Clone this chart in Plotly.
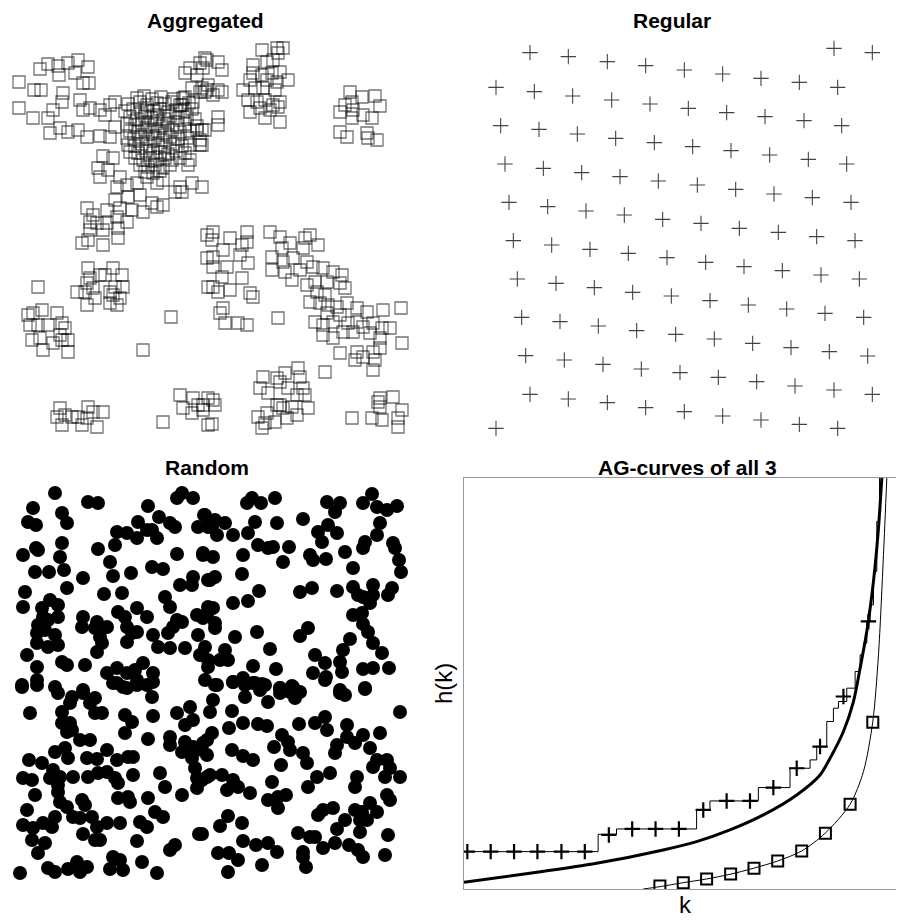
import plotly.graph_objects as go

# ---------------- Aggregated pattern (spatial units, y grows downward) ----------------
agg_nw = [(40,69),(48,64),(58,66),(68,63),(78,60),(88,67),(75,73),(59,75),(83,83),(89,83),
          (19,82),(34,90),(41,90),(63,93),(62,102),(80,100),(19,108),(33,118),(53,110),(83,110),
          (90,108),(100,110),(48,118),(50,133),(60,128),(68,132),(78,130),(87,137),(100,136),
          (110,105),(115,102),(105,115),(115,127),(110,137)]
agg_core = [(137,98),(144,96),(152,99),(161,97),(174,99),(183,98),
            (128,104),(140,102),(147,105),(157,103),(165,104),(172,102),(180,105),(189,103),
            (125,111),(133,109),(141,112),(147,110),(154,111),(160,109),(168,112),(176,110),(185,111),(192,109),
            (130,117),(137,119),(145,116),(151,118),(157,117),(164,119),(170,116),(178,118),(187,117),(195,119),
            (127,124),(135,125),(142,123),(148,125),(155,124),(162,126),(168,123),(177,125),(185,124),(197,126),
            (130,131),(138,132),(145,130),(152,132),(158,131),(165,133),(172,130),(180,132),(190,131),(205,130),
            (127,138),(134,139),(141,137),(148,139),(155,138),(163,140),(170,137),(178,139),(187,138),(200,140),
            (128,145),(135,146),(142,144),(150,146),(158,145),(165,147),(173,144),(182,146),(190,145),
            (130,152),(138,153),(146,151),(153,153),(160,152),(168,154),(176,151),(185,153),
            (135,158),(143,160),(150,158),(157,160),(165,158),(172,160),(180,158),(190,160),
            (140,165),(148,167),(155,165),(163,167),(170,165),(145,172),(153,173),(160,171),
            (197,130),(200,145),(188,165),(180,187),(192,183),(202,187),(175,192),(182,192)]
agg_trail = [(103,156),(113,158),(98,168),(108,170),(100,177),(120,177),(117,187),(127,185),
             (137,183),(147,177),(157,183),(163,180),(128,197),(140,195),(152,203),(163,205),
             (115,200),(107,210),(120,208),(132,210),(143,212),(157,207),(87,208),(93,215),
             (97,223),(90,222),(117,217),(127,222),(107,223),(82,243),(88,240),(90,230),
             (103,230),(103,245),(118,238),(118,228)]
agg_north = [(190,68),(200,63),(205,58),(185,73),(197,75),(192,88),(200,92),(185,97),(207,90),
             (193,102),(182,105),(207,60),(218,62),(222,70),(203,68),(208,85),(218,90),(222,92),
             (205,92),(213,95),(202,88),(218,117),(218,125),(202,130),(202,145)]
agg_ne = [(262,50),(277,48),(283,48),(278,53),(253,65),(267,62),(273,60),(253,73),(262,75),
          (272,73),(280,72),(288,80),(250,80),(267,80),(277,82),(243,90),(255,88),(263,88),
          (275,90),(248,100),(257,102),(265,100),(273,105),(280,102),(250,112),(260,108),
          (265,118),(280,122),(278,107),(270,110)]
agg_east = [(350,92),(362,97),(375,96),(380,106),(352,102),(340,112),(353,110),(363,115),
            (372,118),(352,118),(340,132),(347,137),(367,133),(368,138),(377,140),(345,105)]
agg_mid = [(88,268),(100,275),(113,268),(122,275),(87,283),(93,288),(85,292),(77,292),(95,298),
           (87,305),(110,292),(115,287),(123,287),(110,303),(117,305),(120,298),(113,295),
           (105,275),(90,278),(38,287),(171,317),(143,350)]
agg_west = [(28,315),(33,313),(42,310),(57,313),(30,325),(38,325),(48,325),(62,323),(65,328),
            (32,340),(40,338),(53,343),(62,340),(68,340),(43,350),(68,352),(60,335)]
agg_band_left = [(213,232),(212,240),(230,238),(247,232),(247,242),(242,245),(223,250),(213,257),
                 (240,255),(213,267),(227,267),(248,263),(222,277),(242,278),(213,287),(218,292),
                 (230,290),(250,293),(253,297),(223,308),(220,313),(225,323),(238,323),(247,325),
                 (207,235),(207,258),(208,287)]
agg_band = [(270,232),(280,237),(290,243),(305,238),(310,235),(318,245),(303,248),(282,248),
            (272,257),(283,262),(293,258),(307,262),(300,270),(272,270),(285,272),(292,280),
            (313,267),(323,268),(333,272),(342,275),(340,283),(345,288),(327,282),(315,282),
            (307,285),(317,292),(325,295),(310,302),(320,303),(328,305),(337,307),(347,303),
            (357,308),(367,312),(327,313),(315,322),(323,325),(333,322),(340,315),(348,323),
            (357,322),(363,327),(373,323),(382,328),(323,335),(333,338),(343,332),(353,332),
            (370,333),(380,338),(380,348),(340,353),(357,352),(363,357),(355,360),(373,352),
            (375,360),(373,370),(383,310),(401,308),(390,328),(402,343),(278,318),(325,372)]
agg_south = [(60,408),(65,415),(72,417),(78,417),(62,425),(82,425),(88,407),(93,412),(103,412),
             (97,427),(87,418),(57,417),
             (180,395),(193,398),(198,405),(183,408),(192,413),(203,410),(208,398),(163,422),(208,425),
             (203,405),(213,400),(212,424),(215,405),
             (263,377),(277,378),(285,373),(298,368),(300,377),(260,388),(268,393),(280,382),
             (288,388),(303,388),(305,395),(297,395),(280,405),(283,408),(292,407),(308,408),
             (267,413),(258,417),(265,423),(275,422),(287,418),(297,415),(262,428),(277,405),
             (352,418),(372,418),(378,402),(380,407),(382,420),(393,397),(402,410),(398,418),
             (398,427),(380,398)]

# ---------------- Regular pattern ----------------
reg_points = [(225,68),(340,80),(457,95),(572,107),(688,120),(803,132),(918,145),(1033,157),(1148,172),
              (1137,55),(1252,68),
              (123,172),(238,185),(353,198),(470,210),(585,222),(700,235),(815,248),(930,260),(1047,272),(1160,287),
              (137,287),(252,298),(367,312),(482,325),(598,338),(713,350),(828,362),(944,375),(1060,388),(1175,402),
              (150,402),(265,415),(380,428),(495,440),(610,453),(727,465),(842,478),(957,492),(1072,503),(1188,517),
              (162,517),(278,530),(393,543),(508,555),(623,568),(738,580),(853,595),(970,607),(1085,620),(1200,632),
              (175,632),(290,645),(405,658),(520,670),(636,683),(752,697),(867,710),(982,722),(1098,735),(1213,747),
              (187,747),(303,760),(418,773),(533,787),(649,798),(765,812),(880,825),(995,837),(1110,850),(1226,862),
              (200,862),(315,875),(430,888),(545,902),(662,913),(778,927),(893,940),(1008,953),(1123,965),(1238,978),
              (212,977),(328,990),(444,1003),(559,1017),(675,1028),(790,1042),(905,1055),(1020,1068),(1137,1080),(1252,1093),
              (225,1093),(340,1107),(457,1118),(572,1133),(688,1145),(803,1158),(918,1170),(1033,1183),(1148,1195),
              (123,1195)]

# ---------------- Random pattern ----------------
rnd_nw = [(55,493),(88,502),(98,503),(33,508),(62,513),(67,523),(28,522),(36,525),(148,506),(138,522),
          (159,517),(170,523),(175,527),(117,532),(127,533),(137,538),(147,530),(152,530),(157,538),
          (177,498),(182,493),(193,498),(204,515),(198,527),(208,527),(62,543),(36,548),(38,550),
          (23,555),(60,557),(98,549),(115,545),(110,562),(177,554),(203,555),(35,572),(49,572),
          (64,570),(113,576),(131,573),(152,567),(163,569),(83,578),(193,577),(180,585),(192,585),
          (208,580),(67,588),(25,592),(104,594),(122,593),(23,607),(50,600),(58,605),(42,608),
          (43,617),(165,597),(170,607),(137,608),(118,612),(125,617),(147,617),(197,615),(208,607),
          (83,617),(82,627),(97,622),(95,628),(107,627),(127,627),(132,633),(137,632),(177,620),
          (182,622),(173,627),(168,633),(203,618),(38,625),(48,620),(58,617),(37,633),(45,630),
          (55,635),(100,637),(102,643),(127,642),(153,635),(158,647),(198,635),(37,643),(48,647),
          (58,645),(97,652),(170,648),(185,648),(200,655),(27,655),(62,662),(67,665),(37,667),
          (85,665),(107,673),(117,668),(127,673),(135,670),(143,663),(137,680),(153,673),(208,667),
          (205,680),(22,685),(37,680),(55,687),(83,690),(117,683),(127,688),(147,685)]
rnd_ne = [(247,503),(252,498),(261,503),(275,498),(327,502),(340,503),(335,512),(372,494),(363,503),
          (377,507),(387,510),(397,506),(205,515),(215,520),(225,523),(212,527),(217,535),(233,535),
          (255,522),(248,533),(277,523),(303,519),(328,525),(318,532),(322,542),(337,533),(380,523),
          (377,535),(365,542),(363,548),(393,543),(395,548),(258,545),(268,548),(273,547),(289,547),
          (243,555),(203,553),(213,557),(283,562),(310,555),(313,560),(326,559),(345,552),(353,568),
          (399,560),(401,572),(242,574),(215,577),(210,580),(259,591),(248,601),(233,603),(300,592),
          (312,588),(337,591),(353,587),(358,595),(363,597),(373,585),(370,603),(373,595),(392,588),
          (388,595),(213,608),(207,615),(215,623),(215,628),(353,615),(362,613),(363,624),(368,632),
          (373,643),(382,653),(257,632),(235,637),(308,628),(300,636),(350,639),(270,649),(205,647),
          (208,660),(225,650),(228,660),(220,660),(315,655),(325,663),(343,650),(340,662),(342,672),
          (313,673),(326,677),(363,669),(373,668),(389,668),(253,666),(276,669),(217,685),(233,682),
          (243,678),(253,683),(262,684),(280,688),(292,686),(340,690),(365,688)]
rnd_sw = [(22,687),(37,685),(58,693),(72,697),(83,693),(95,698),(90,703),(113,683),(123,687),(137,685),
          (153,682),(152,697),(30,713),(62,712),(70,703),(95,713),(102,713),(125,715),(132,722),(153,716),
          (177,713),(190,707),(62,723),(70,723),(67,732),(72,730),(125,733),(148,739),(170,737),(170,745),
          (185,725),(193,720),(185,742),(193,747),(182,752),(203,743),(80,740),(90,740),(55,752),(65,748),
          (68,758),(107,750),(87,758),(97,759),(117,760),(128,757),(133,757),(29,760),(42,763),(53,770),
          (23,778),(32,780),(50,778),(60,777),(58,785),(73,777),(88,777),(98,773),(107,772),(115,778),
          (118,783),(133,775),(160,773),(192,758),(195,768),(207,755),(197,778),(197,788),(207,777),
          (165,787),(182,795),(35,795),(58,792),(60,802),(67,807),(82,800),(85,805),(118,798),(128,797),
          (130,802),(148,798),(27,810),(55,817),(73,817),(80,818),(92,817),(107,823),(120,823),(140,822),
          (147,827),(155,812),(163,817),(23,825),(33,828),(43,823),(52,827),(32,840),(45,843),(83,834),
          (95,840),(100,840),(97,827),(137,841),(38,853),(170,850),(175,845),(199,834),(113,857),(120,860),
          (110,869),(123,870),(142,862),(157,873),(20,873),(48,868),(55,872),(68,869),(77,862),(80,872),(87,867)]
rnd_se = [(215,685),(233,682),(245,685),(255,683),(260,690),(265,685),(280,688),(280,693),(290,692),
          (295,698),(300,692),(293,687),(325,680),(340,693),(345,695),(365,689),(213,700),(245,697),
          (268,702),(210,712),(232,711),(400,712),(229,728),(243,723),(258,724),(267,726),(299,724),
          (315,723),(325,717),(327,730),(347,725),(347,737),(363,735),(380,733),(212,733),(207,740),
          (202,750),(282,735),(288,742),(290,750),(274,747),(303,753),(307,763),(337,745),(335,753),
          (355,743),(370,748),(232,750),(243,756),(253,760),(281,765),(377,760),(387,760),(373,767),
          (390,768),(385,777),(400,777),(330,773),(317,777),(308,787),(357,777),(355,787),(210,775),
          (222,775),(233,780),(238,787),(227,790),(202,780),(272,782),(250,793),(268,800),(278,797),
          (286,795),(278,808),(387,795),(390,800),(370,803),(377,812),(362,812),(355,810),(333,808),
          (323,810),(318,815),(345,820),(360,820),(367,820),(360,832),(228,816),(220,826),(242,823),
          (202,834),(298,833),(310,837),(315,837),(337,829),(243,841),(256,845),(268,843),(277,852),
          (303,852),(303,857),(323,848),(335,843),(349,845),(358,850),(363,857),(388,835),(385,855),
          (218,853),(229,853),(238,860),(262,865),(228,872),(306,867)]

# ---------------- AG-curves ----------------
reg_step_k = [0, 402, 457, 697, 737, 882, 977, 1037, 1057, 1087, 1107, 1122, 1147, 1172, 1187, 1197, 1207, 1217, 1227, 1237, 1245]
reg_step_h = [112, 164, 180, 237, 264, 304, 362, 387, 427, 502, 542, 562, 602, 652, 702, 737, 802, 852, 952, 1102, 1232]
reg_mark_k = [10, 80, 150, 220, 292, 362, 434, 504, 574, 644, 717, 787, 857, 927, 997, 1067, 1137, 1212]
reg_mark_h = [112, 112, 112, 112, 112, 112, 162, 180, 180, 180, 237, 264, 264, 304, 362, 427, 577, 802]
rnd_curve_k = [0, 197, 397, 597, 697, 797, 897, 997, 1067, 1097, 1137, 1167, 1187, 1207, 1227, 1242, 1252]
rnd_curve_h = [20, 47, 77, 117, 142, 177, 222, 282, 342, 392, 472, 562, 662, 772, 922, 1082, 1232]
agg_curve_k = [537, 587, 657, 727, 797, 867, 940, 1012, 1082, 1157, 1197, 1225, 1242, 1257, 1267]
agg_curve_h = [0, 7, 19, 30, 44, 62, 84, 114, 167, 254, 352, 502, 702, 1002, 1232]
agg_mark_k = [587, 657, 727, 799, 869, 940, 1012, 1083, 1157, 1225]
agg_mark_h = [9, 19, 30, 45, 62, 84, 114, 167, 254, 500]

# page offset (default body margin of the html page)
OFF = 8
W, H = 904 - OFF, 920 - OFF


def fx(p):
    return (p - OFF) / W


def fy(p):
    return 1 - (p - OFF) / H


fig = go.Figure()


def xs(pts):
    return [p[0] for p in pts]


def ys(pts):
    return [p[1] for p in pts]


agg_all = agg_nw + agg_core + agg_trail + agg_north + agg_ne + agg_east + agg_mid + agg_west + agg_band_left + agg_band + agg_south
fig.add_trace(go.Scatter(x=xs(agg_all), y=ys(agg_all), mode="markers", xaxis="x", yaxis="y",
                         marker=dict(symbol="square-open", size=12, color="rgba(0,0,0,0.55)",
                                     line=dict(width=1.3, color="rgba(0,0,0,0.55)"))))
fig.add_trace(go.Scatter(x=xs(reg_points), y=ys(reg_points), mode="markers", xaxis="x2", yaxis="y2",
                         marker=dict(symbol="cross-thin", size=11, color="#444",
                                     line=dict(width=1.1, color="#444"))))
rnd_all = rnd_nw + rnd_ne + rnd_sw + rnd_se
fig.add_trace(go.Scatter(x=xs(rnd_all), y=ys(rnd_all), mode="markers", xaxis="x3", yaxis="y3",
                         marker=dict(symbol="circle", size=14, color="black", line=dict(width=0))))
# AG curves
fig.add_trace(go.Scatter(x=reg_step_k, y=reg_step_h, mode="lines", xaxis="x4", yaxis="y4",
                         line=dict(shape="hv", width=1, color="black")))
fig.add_trace(go.Scatter(x=reg_mark_k, y=reg_mark_h, mode="markers", xaxis="x4", yaxis="y4",
                         marker=dict(symbol="cross-thin", size=11, color="black",
                                     line=dict(width=2.2, color="black"))))
fig.add_trace(go.Scatter(x=rnd_curve_k, y=rnd_curve_h, mode="lines", xaxis="x4", yaxis="y4",
                         line=dict(shape="spline", smoothing=0.8, width=3, color="black")))
fig.add_trace(go.Scatter(x=agg_curve_k, y=agg_curve_h, mode="lines", xaxis="x4", yaxis="y4",
                         line=dict(shape="spline", smoothing=0.8, width=1, color="black")))
fig.add_trace(go.Scatter(x=agg_mark_k, y=agg_mark_h, mode="markers", xaxis="x4", yaxis="y4",
                         marker=dict(symbol="square-open", size=11, color="black",
                                     line=dict(width=2, color="black"))))

hidden = dict(showgrid=False, zeroline=False, showticklabels=False, ticks="", showline=False)
box = dict(showgrid=False, zeroline=False, showticklabels=False, ticks="", showline=True,
           mirror=True, linecolor="#999", linewidth=1)
fig.update_layout(
    width=W, height=H, margin=dict(l=0, r=0, t=0, b=0),
    paper_bgcolor="white", plot_bgcolor="white", showlegend=False,
    xaxis=dict(domain=[0, fx(452)], range=[OFF, 452], anchor="y", **hidden),
    yaxis=dict(domain=[fy(460), 1], range=[460, OFF], anchor="x", **hidden),
    xaxis2=dict(domain=[fx(455), fx(895)], range=[0, 1320], anchor="y2", **hidden),
    yaxis2=dict(domain=[fy(450), fy(30)], range=[1260, 0], anchor="x2", **hidden),
    xaxis3=dict(domain=[0, fx(452)], range=[OFF, 452], anchor="y3", **hidden),
    yaxis3=dict(domain=[0, fy(460)], range=[920, 460], anchor="x3", **hidden),
    xaxis4=dict(domain=[fx(464), fx(902.5)], range=[0, 1314], anchor="y4", **box),
    yaxis4=dict(domain=[fy(889), fy(478)], range=[0, 1232], anchor="x4", **box),
)

title_font = dict(family="Liberation Sans, Arial, sans-serif", size=21, color="black")
label_font = dict(family="Liberation Sans, Arial, sans-serif", size=24, color="black")
# top-row titles hang from the top edge of the page
for txt, px in [("<b>Aggregated</b>", 205), ("<b>Regular</b>", 672)]:
    fig.add_annotation(text=txt, x=fx(px), y=1, xref="paper", yref="paper", showarrow=False,
                       font=title_font, xanchor="center", yanchor="top", borderpad=0)
anns = [
    ("<b>Random</b>", 207, 467, title_font, 0),
    ("<b>AG-curves of all 3</b>", 687, 467, title_font, 0),
    ("h(k)", 443, 684, label_font, -90),
    ("k", 685, 904, label_font, 0),
]
for txt, px, py, f, ang in anns:
    fig.add_annotation(text=txt, x=fx(px), y=fy(py), xref="paper", yref="paper",
                       showarrow=False, font=f, textangle=ang, xanchor="center", yanchor="middle")

fig.write_html("out.html")
